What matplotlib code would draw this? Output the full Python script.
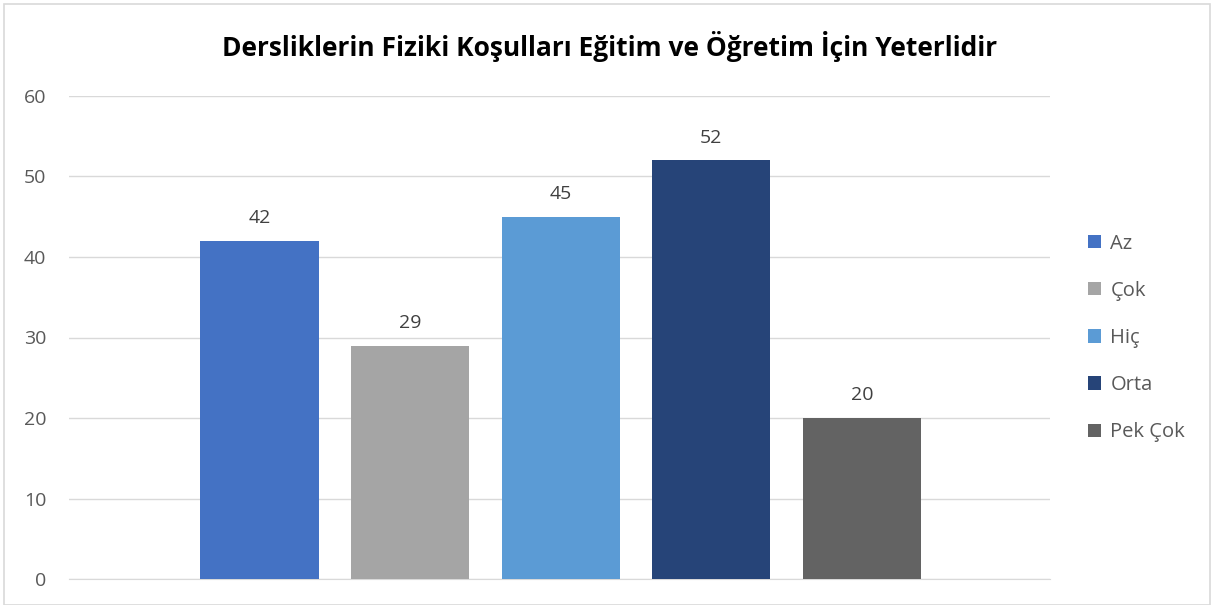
import matplotlib
matplotlib.use("Agg")
import matplotlib.pyplot as plt
from matplotlib.patches import Rectangle

plt.rcParams["font.family"] = ["Open Sans", "DejaVu Sans"]

title = "Dersliklerin Fiziki Koşulları Eğitim ve Öğretim İçin Yeterlidir"
categories = ["Az", "Çok", "Hiç", "Orta", "Pek Çok"]
values = [42, 29, 45, 52, 20]
colors = ["#4472C4", "#A5A5A5", "#5B9BD5", "#264478", "#636363"]
yticks = [0, 10, 20, 30, 40, 50, 60]

W, H = 1215, 605
fig = plt.figure(figsize=(W / 100, H / 100), dpi=100)
fig.patches.append(Rectangle((4 / W, 0), (W - 9) / W, 1 - 4 / H, transform=fig.transFigure,
                             fill=False, edgecolor="#D9D9D9", linewidth=1.2))

ax = fig.add_axes([69 / W, (H - 579) / H, (1050 - 69) / W, (579 - 96) / H])
bw = 0.785
for i, (c, v, col) in enumerate(zip(categories, values, colors)):
    b = ax.bar(i, v, width=bw, color=col, label=c, zorder=3)
    ax.bar_label(b, [f"{v}"], padding=10, fontsize=14, color="#404040")

ax.set_xlim(-1.265, 5.25)
ax.set_ylim(0, 60)
ax.set_yticks(yticks)
ax.set_xticks([])
ax.grid(axis="y", color="#D9D9D9", linewidth=1, zorder=0)
for s in ["top", "right", "left"]:
    ax.spines[s].set_visible(False)
ax.spines["bottom"].set_color("#D9D9D9")
ax.tick_params(axis="y", length=0, pad=16.5, labelsize=14, labelcolor="#595959")

fig.text(610 / W, 1 - 46 / H, title, ha="center", va="center", fontsize=19,
         fontweight="bold", color="black")

leg = ax.legend(loc="center left", bbox_to_anchor=(1070 / W, 1 - 338 / H),
                bbox_transform=fig.transFigure, frameon=False, fontsize=14.5,
                labelcolor="#595959", handlelength=0.65, handleheight=0.65,
                handletextpad=0.45, labelspacing=1.35)

fig.savefig("out.png", dpi=100)
